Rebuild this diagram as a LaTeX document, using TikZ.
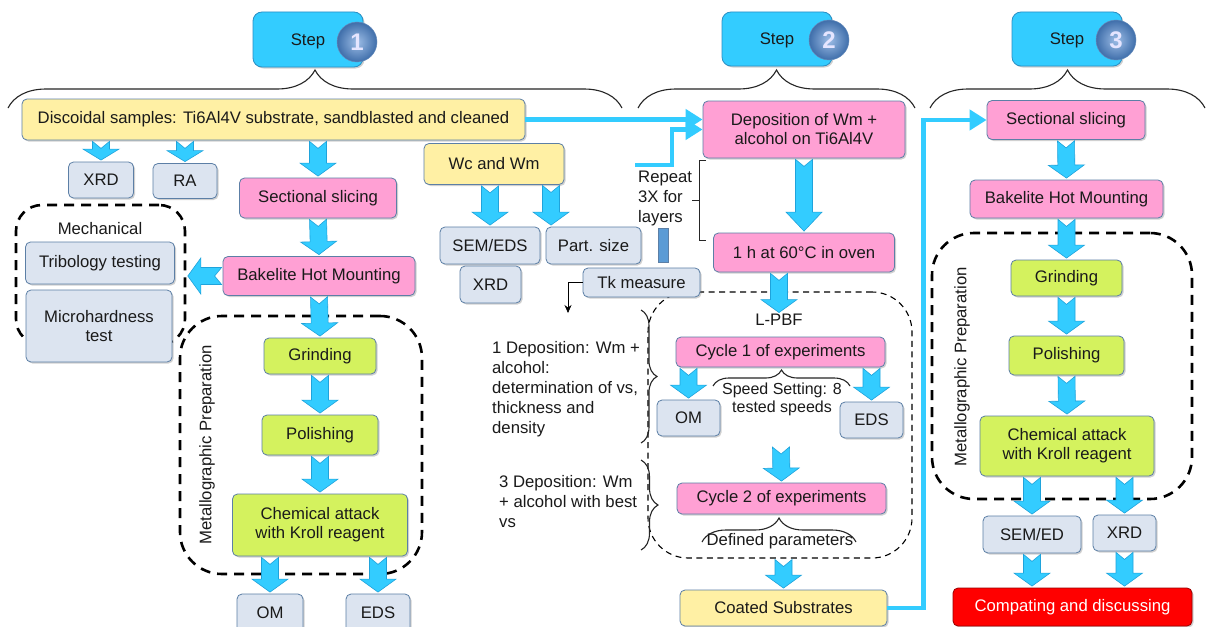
\documentclass[tikz,border=0pt]{standalone}
\usepackage{fontspec}
\setmainfont{Liberation Sans}
\usetikzlibrary{calc,decorations.pathreplacing,arrows.meta,shadows}
\definecolor{cyanA}{HTML}{33CCFF}
\definecolor{arrB}{HTML}{1FA3DB}
\definecolor{stepB}{HTML}{2A8FC4}
\definecolor{pinkF}{HTML}{FFA0D4}
\definecolor{yelF}{HTML}{FFF0A4}
\definecolor{grnF}{HTML}{D4F25E}
\definecolor{gryF}{HTML}{DCE4F0}
\definecolor{bordC}{HTML}{5C7FA6}
\definecolor{redF}{HTML}{FF0000}
\definecolor{ballL}{HTML}{9DBDE6}
\definecolor{ballD}{HTML}{3F6EAA}
\definecolor{tkBar}{HTML}{5B9BD5}
\definecolor{txtC}{HTML}{1A1A1A}

\newcommand\blk[3][13pt]{%
  \path #2 coordinate (bkA) #3 coordinate (bkB);
  \coordinate (bkS) at ($(bkA)!1pt!(bkB)$);
  \coordinate (bkE) at ($(bkB)!1.5pt!(bkA)$);
  \filldraw[blkarrow] ($(bkS)!8.5pt!90:(bkE)$) -- ($(bkS)!7pt!(bkE)$) -- ($(bkS)!8.5pt!-90:(bkE)$)
   -- ($(bkE)!#1!(bkS)!8.5pt!-90:(bkE)$) -- ($(bkE)!#1!(bkS)!18pt!-90:(bkE)$) -- (bkE)
   -- ($(bkE)!#1!(bkS)!18pt!90:(bkE)$) -- ($(bkE)!#1!(bkS)!8.5pt!90:(bkE)$) -- cycle;}

\tikzset{
 nbox/.style={draw=bordC, line width=0.8pt, rounded corners=5pt, align=center, inner sep=1pt,
   text=txtC, font=\fontsize{16.7}{19}\selectfont,
   drop shadow={shadow xshift=1.5pt, shadow yshift=-1.5pt, opacity=0.3, fill=black!60}},
 wh/.style 2 args={minimum width=#1pt, minimum height=#2pt},
 pbox/.style={nbox, fill=pinkF},
 ybox/.style={nbox, fill=yelF},
 gbox/.style={nbox, fill=grnF},
 lbox/.style={nbox, fill=gryF},
 rbox/.style={nbox, fill=redF, draw=red!60!black, text=white},
 stepbox/.style={nbox, fill=cyanA, draw=stepB, rounded corners=9pt, text depth=0pt},
 ballnode/.style={circle, shading=radial, inner color=ballL, outer color=ballD, draw=ballD!80!white,
   line width=0.5pt, minimum size=40pt, inner sep=0pt,
   text=white!90!blue, font=\fontsize{24}{24}\selectfont\bfseries},
 bigdash/.style={draw=black, line width=2.6pt, dash pattern=on 10pt off 7pt, rounded corners=#1, inner sep=0pt},
 thindash/.style={draw=black, line width=1.1pt, dash pattern=on 6pt off 4.5pt, rounded corners=40pt, inner sep=0pt},
 lbl/.style={inner sep=0pt, text=txtC, font=\fontsize{16.7}{20}\selectfont},
 brc/.style={draw=black!85, line width=1.1pt, decorate, decoration={brace, amplitude=#1}},
 blkarrow/.style={fill=cyanA, draw=arrB, line width=0.6pt, line join=miter},
 cyanconn/.style={draw=cyanA, line width=4.5pt, -{Triangle[length=17pt,width=20pt]}},
}

\begin{document}
\begin{tikzpicture}[x=1pt,y=-1pt]
\useasboundingbox (0,0) rectangle (1206,626);
\fill[white] (0,0) rectangle (1206,626);

% dashed containers
\node[bigdash=26pt, wh={169}{140}] (mech) at (100.5,275) {};
\node[bigdash=42pt, wh={242}{258}] (meta1) at (301,445) {};
\node[bigdash=42pt, wh={260}{266}] (meta3) at (1062,366) {};
\node[thindash, wh={264}{266}] (lpbf) at (780,425) {};

% step headers
\node[stepbox, wh={110}{55}] (s1) at (308,39.5) {Step};
\node[ballnode] (n1) at (357,42) {1};
\node[stepbox, wh={110}{54}] (s2) at (777,39) {Step};
\node[ballnode] (n2) at (829,40) {2};
\node[stepbox, wh={110}{54}] (s3) at (1067,39) {Step};
\node[ballnode] (n3) at (1116,40) {3};

% braces
\draw[brc=38pt] (8,108) -- (622,108);
\draw[brc=38pt] (638,108) -- (915,108);
\draw[brc=38pt] (930,108) -- (1205,108);

% step 1
\node[ybox, wh={503}{41}] (disc) at (273.5,119.5) {Discoidal samples: Ti6Al4V substrate, sandblasted and cleaned};
\node[lbox, wh={65}{36}] (xrd1) at (101,180) {XRD};
\node[lbox, wh={64}{35}] (ra) at (185,181) {RA};
\node[pbox, wh={157}{40}] (slice1) at (318,198) {Sectional slicing};
\node[pbox, wh={192}{39}] (bak1) at (319,276) {Bakelite Hot Mounting};
\node[lbl] (mechl) at (100,229) {Mechanical};
\node[lbox, wh={149}{42}] (trib) at (100,263) {Tribology testing};
\node[lbox, wh={146}{72}] (micro) at (99,326) {Microhardness\\test};
\node[lbl, rotate=90] (meta1l) at (207,445) {Metallographic Preparation};
\node[gbox, wh={112}{36}] (grind1) at (320,356) {Grinding};
\node[gbox, wh={116}{40}] (pol1) at (320,435) {Polishing};
\node[gbox, wh={175}{62}] (chem1) at (320,525) {Chemical attack\\with Kroll reagent};
\node[lbox, wh={66}{38}] (om1) at (270,613) {OM};
\node[lbox, wh={64}{38}] (eds1) at (378,613) {EDS};

% powders
\node[ybox, wh={140}{41}] (wc) at (494,164) {Wc and Wm};
\node[lbox, wh={100}{37}] (semeds) at (490,245.5) {SEM/EDS};
\node[lbox, wh={95}{37}] (psize) at (593.5,245.5) {Part. size};
\node[lbox, wh={61}{37}] (xrd1b) at (490.5,284.5) {XRD};
\node[fill=tkBar, draw=bordC, line width=0.5pt, inner sep=0pt, wh={10}{34}] (tkbar) at (663,245) {};
\node[lbox, wh={117}{29}] (tk) at (641.5,282.5) {Tk measure};
\coordinate (tkdown) at (568,313);
\draw[line width=0.7pt, -{Stealth[length=8pt,width=7pt]}] (tk.west) -| (tkdown);

% step 2
\node[pbox, wh={202}{57}] (dep) at (804,129.5) {Deposition of Wm +\\alcohol on Ti6Al4V};
\node[pbox, wh={181}{39}] (oven) at (804,252.5) {1 h at 60°C in oven};
\node[lbl, align=left, anchor=north west] (rept) at (638,171) {Repeat\\3X for\\layers};
\draw[black!85, line width=1pt] (706,160) -- (699,160) -- (699,240) -- (706,240) (699,200) -- (692,200);
\node[lbl] (lpbfl) at (779,320) {L-PBF};
\node[pbox, wh={209}{30}] (cyc1) at (780.5,352) {Cycle 1 of experiments};
\node[lbox, wh={63}{36}] (om2) at (688.5,418) {OM};
\node[lbox, wh={63}{36}] (eds2) at (871.5,420) {EDS};
\draw[brc=16pt] (713,386) -- (850,386);
\node[lbl, align=center, font=\fontsize{16}{18}\selectfont] (speed) at (782,399) {Speed Setting: 8\\tested speeds};
\node[lbl, align=left, anchor=north west] (dep1t) at (492,341) {1 Deposition: Wm +\\alcohol:\\determination of vs,\\thickness and\\density};
\node[lbl, align=left, anchor=north west] (dep3t) at (499,475) {3 Deposition: Wm\\+ alcohol with best\\vs};
\draw[brc=16pt] (641,310) -- (641,443);
\draw[brc=17pt] (641,460) -- (641,550);
\node[pbox, wh={209}{31}] (cyc2) at (781.5,498.5) {Cycle 2 of experiments};
\draw[brc=24pt] (702,542) -- (856,542);
\node[lbl] (defp) at (780,541) {Defined parameters};
\node[ybox, wh={207}{36}] (coated) at (783.5,608) {Coated Substrates};
\coordinate (c2tail) at (781,446);
\coordinate (rep) at (635,165);

% step 3
\node[pbox, wh={158}{39}] (slice3) at (1066,120) {Sectional slicing};
\node[pbox, wh={193}{38}] (bak3) at (1066.5,199) {Bakelite Hot Mounting};
\node[lbl, rotate=90] (meta3l) at (962,367) {Metallographic Preparation};
\node[gbox, wh={111}{36}] (grind3) at (1066.5,278) {Grinding};
\node[gbox, wh={115}{39}] (pol3) at (1066.5,355.5) {Polishing};
\node[gbox, wh={174}{60}] (chem3) at (1067,446) {Chemical attack\\with Kroll reagent};
\node[lbox, wh={98}{37}] (sem3) at (1032,534.5) {SEM/ED};
\node[lbox, wh={63}{36}] (xrd3) at (1124.5,533) {XRD};
\node[rbox, wh={239}{38}] (red) at (1072.5,607) {Compating and discussing};

% block arrows
\blk[11pt]{(disc.south -| xrd1.north)}{(xrd1.north)}
\blk[11pt]{(disc.south -| ra.north)}{(ra.north)}
\blk{(disc.south -| slice1.north)}{(slice1.north)}
\blk{(slice1.south)}{(bak1.north)}
\blk{(bak1.west)}{(mech.east |- bak1.west)}
\blk{(bak1.south)}{(grind1.north)}
\blk{(grind1.south)}{(pol1.north)}
\blk{(pol1.south)}{(chem1.north)}
\blk{(chem1.south -| om1.north)}{(om1.north)}
\blk{(chem1.south -| eds1.north)}{(eds1.north)}
\blk{(wc.south -| semeds.north)}{(semeds.north)}
\coordinate (pst) at (551,184.5);
\blk{(pst)}{(pst |- psize.north)}
\blk[19pt]{(dep.south)}{(oven.north)}
\blk{(oven.south -| lpbfl.north)}{(lpbfl.north)}
\blk{(cyc1.south -| om2.north)}{(om2.north)}
\blk{(cyc1.south -| eds2.north)}{(eds2.north)}
\blk{(c2tail)}{(cyc2.north)}
\blk{(lpbf.south -| coated.north)}{(coated.north)}
\blk{(slice3.south)}{(bak3.north)}
\blk{(bak3.south)}{(grind3.north)}
\blk{(grind3.south)}{(pol3.north)}
\blk{(pol3.south)}{(chem3.north)}
\blk{(chem3.south -| sem3.north)}{(sem3.north)}
\blk{(chem3.south -| xrd3.north)}{(xrd3.north)}
\blk{(sem3.south)}{(red.north -| sem3.south)}
\blk{(xrd3.south)}{(red.north -| xrd3.south)}

% cyan connectors
\draw[cyanconn] (disc.east) -- (disc.east -| dep.west);
\draw[cyanconn] (rep) -- ++(37,0) |- (dep.west);
\draw[cyanconn] (coated.east) -- ++(36,0) |- (slice3.west);
\end{tikzpicture}
\end{document}
